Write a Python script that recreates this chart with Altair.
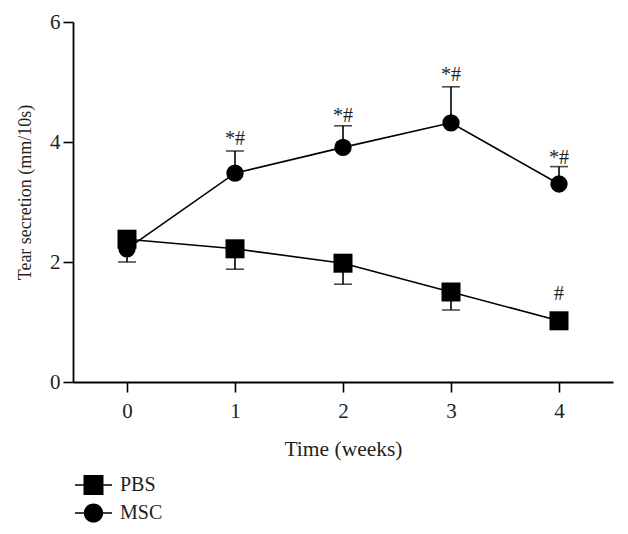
import altair as alt
import pandas as pd

weeks = [0, 1, 2, 3, 4]
groups = ["PBS", "MSC"]
pbs_mean = [2.38, 2.22, 1.98, 1.50, 1.02]
pbs_sd = [0.38, 0.34, 0.35, 0.30, 0.05]
msc_mean = [2.22, 3.48, 3.91, 4.32, 3.30]
msc_sd = [0.20, 0.37, 0.36, 0.60, 0.29]
annot_week = [1, 2, 3, 4, 4]
annot_text = ["*#", "*#", "*#", "*#", "#"]
annot_y = [3.95, 4.33, 5.02, 3.63, 1.37]

rows = []
for w, m, s in zip(weeks, pbs_mean, pbs_sd):
    rows.append({"group": "PBS", "week": w, "mean": m, "end": m - s})
for w, m, s in zip(weeks, msc_mean, msc_sd):
    rows.append({"group": "MSC", "week": w, "mean": m, "end": m + s})
df = pd.DataFrame(rows)
ann = pd.DataFrame({"week": annot_week, "label": annot_text, "y": annot_y})

FONT = "Liberation Serif"
TXT = "#231f20"
INK = "black"

xs = alt.Scale(domain=[-0.5, 4.5], nice=False, zero=False)
ys = alt.Scale(domain=[0, 6], nice=False)

x_axis = alt.Axis(values=weeks, title="Time (weeks)", grid=False, tickSize=10,
                  tickWidth=1.6, domainWidth=1.8, domainColor=INK, tickColor=INK,
                  labelFont=FONT, labelFontSize=21, labelColor=TXT, labelPadding=8,
                  titleFont=FONT, titleFontSize=21.5, titleColor=TXT, titleFontWeight="normal",
                  titlePadding=17, format="d")
y_axis = alt.Axis(values=[0, 2, 4, 6], title="Tear secretion (mm/10s)", grid=False, tickSize=10,
                  tickWidth=1.6, domainWidth=1.8, domainColor=INK, tickColor=INK,
                  labelFont=FONT, labelFontSize=21, labelColor=TXT, labelPadding=3,
                  titleFont=FONT, titleFontSize=18, titleColor=TXT, titleFontWeight="normal",
                  titlePadding=15, titleY=170, format="d")

base = alt.Chart(df)
X = alt.X("week:Q", scale=xs, axis=x_axis)
Y = alt.Y("mean:Q", scale=ys, axis=y_axis)

lines = base.mark_line(color=INK, strokeWidth=1.6).encode(x=X, y=Y, detail="group:N")
rules = base.mark_rule(color=INK, strokeWidth=1.6).encode(x=X, y=Y, y2="end:Q")
caps = base.mark_tick(color=INK, orient="horizontal", size=18, thickness=1.6).encode(
    x=X, y=alt.Y("end:Q", scale=ys, axis=y_axis))
squares = base.transform_filter(alt.datum.group == "PBS").mark_point(
    shape="square", filled=True, color=INK, size=361, opacity=1).encode(x=X, y=Y)
circles = base.transform_filter(alt.datum.group == "MSC").mark_point(
    shape="circle", filled=True, color=INK, size=300, opacity=1).encode(x=X, y=Y)
texts = alt.Chart(ann).mark_text(font=FONT, fontSize=20, color=TXT, baseline="alphabetic",
                                 align="center").encode(
    x=alt.X("week:Q", scale=xs, axis=x_axis),
    y=alt.Y("y:Q", scale=ys, axis=y_axis),
    text="label:N")

# legend glyphs: a filled thin bar (the line) plus the marker, all clockwise
sq_path = "M-1,-0.045H1V0.045H-1Z M-0.54,-0.54H0.54V0.54H-0.54Z"
ci_path = "M-1,-0.045H1V0.045H-1Z M-0.52,0A0.52,0.52,0,1,1,0.52,0A0.52,0.52,0,1,1,-0.52,0Z"

legend_layer = base.transform_calculate(off="-50").mark_point(
    filled=True, color=INK, size=1369, opacity=1, clip=True).encode(
    x=X,
    y=alt.Y("off:Q", scale=ys, axis=y_axis),
    shape=alt.Shape("group:N", scale=alt.Scale(domain=groups, range=[sq_path, ci_path]),
                    legend=alt.Legend(orient="none", legendX=1, legendY=449, title=None,
                                      labelFont=FONT, labelFontSize=20, labelColor=TXT,
                                      labelOffset=7, symbolSize=1369, rowPadding=0,
                                      clipHeight=28,
                                      padding=0, symbolFillColor=INK, symbolOpacity=1)))

chart = alt.layer(lines, rules, caps, circles, squares, texts, legend_layer).properties(
    width=540, height=360,
    padding={"left": 65, "top": 14, "right": 7, "bottom": 144},
    autosize=alt.AutoSizeParams(type="none"),
    background="white",
).configure_view(stroke=None)

chart.save("out.html", embed_options={"renderer": "svg", "actions": False})
